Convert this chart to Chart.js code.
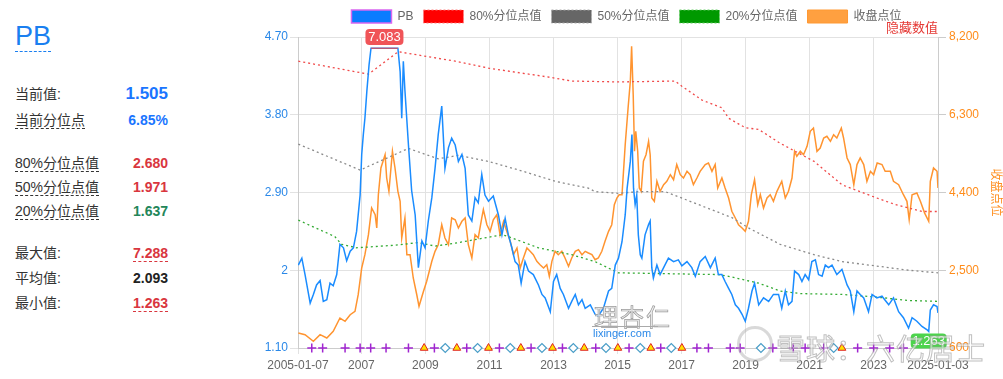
<!DOCTYPE html>
<html>
<head>
<meta charset="utf-8">
<script src="https://cdn.jsdelivr.net/npm/chart.js@4.4.1/dist/chart.umd.min.js"></script>
<style>
  html, body { margin: 0; padding: 0; background: #fff; }
  body { width: 1003px; height: 379px; position: relative; overflow: hidden;
         font-family: "Liberation Sans", "Noto Sans CJK SC", sans-serif; }
  #side { position: absolute; left: 0; top: 0; width: 250px; height: 379px; }
  .title { position: absolute; left: 15px; top: 21px; font-size: 27px; line-height: 30px;
           color: #1a7ff0; border-bottom: 1px dashed #1a7ff0; }
  .row { position: absolute; left: 15px; width: 153px; height: 16px; line-height: 16px; font-size: 14px; color: #333; }
  .row .lab { position: absolute; left: 0; top: 0; }
  .row .dash { border-bottom: 1px dashed #333; }
  .row .val { position: absolute; right: 0; top: 0; font-weight: bold; }
  .blue { color: #1a75ff; }
  .red { color: #d9363e; }
  .green { color: #23865a; }
  .black { color: #222; }
  .uline { border-bottom: 1px dashed #d9363e; }
  #wrap { position: absolute; left: 250px; top: 0; width: 753px; height: 379px; }
  .wm { position: absolute; pointer-events: none; white-space: nowrap; }
</style>
</head>
<body>
<div id="side">
  <div class="title">PB</div>
  <div class="row" style="top:86px"><span class="lab">当前值:</span><span class="val blue" style="font-size:17px">1.505</span></div>
  <div class="row" style="top:112px"><span class="lab dash">当前分位点</span><span class="val blue">6.85%</span></div>
  <div class="row" style="top:155px"><span class="lab dash">80%分位点值</span><span class="val red">2.680</span></div>
  <div class="row" style="top:179px"><span class="lab dash">50%分位点值</span><span class="val red">1.971</span></div>
  <div class="row" style="top:203px"><span class="lab dash">20%分位点值</span><span class="val green">1.637</span></div>
  <div class="row" style="top:245px"><span class="lab">最大值:</span><span class="val red uline">7.288</span></div>
  <div class="row" style="top:270px"><span class="lab">平均值:</span><span class="val black">2.093</span></div>
  <div class="row" style="top:295px"><span class="lab">最小值:</span><span class="val red uline">1.263</span></div>
</div>
<div id="wrap"><canvas id="pbChart"></canvas></div>
<div class="wm" style="left:594px;top:298px;font-size:24px;color:rgba(235,235,235,0.8);-webkit-text-stroke:0.7px #9a9a9a;letter-spacing:2px">理杏仁</div>
<div class="wm" style="left:592px;top:326px;width:66px;border-top:1px solid #aaa"></div>
<div class="wm" style="left:593px;top:327px;font-size:11px;color:#2a88e8">lixinger.com</div>
<div class="wm" style="left:737px;top:326px;width:30px;height:30px;border-radius:50%;border:3px solid rgba(170,170,170,0.45)"></div>
<div class="wm" style="left:776px;top:326px;font-size:29px;color:rgba(255,255,255,0.55);-webkit-text-stroke:1px rgba(150,150,150,0.6);letter-spacing:1px">雪球：六亿居士</div>
<script>
// PB series (decimal year / value)
const pbDates = [
  2005.03,2005.14,2005.24,2005.40,2005.50,2005.60,2005.71,2005.81,2005.92,2006.02,
  2006.12,2006.23,2006.33,2006.44,2006.54,2006.65,2006.75,2006.85,2006.96,2007.01,
  2007.06,2007.11,2007.17,2007.24,2007.30,2008.14,2008.21,2008.26,2008.31,2008.36,
  2008.47,2008.57,2008.68,2008.78,2008.89,2008.99,2009.09,2009.20,2009.30,2009.40,
  2009.51,2009.61,2009.72,2009.82,2009.93,2010.03,2010.14,2010.24,2010.34,2010.45,
  2010.55,2010.65,2010.76,2010.86,2010.97,2011.12,2011.28,2011.39,2011.49,2011.59,
  2011.70,2011.80,2011.90,2011.99,2012.11,2012.22,2012.37,2012.53,2012.64,2012.74,
  2012.90,2013.00,2013.10,2013.21,2013.31,2013.47,2013.57,2013.68,2013.78,2013.89,
  2013.99,2014.15,2014.30,2014.40,2014.56,2014.72,2014.82,2014.93,2015.03,2015.14,
  2015.24,2015.30,2015.40,2015.45,2015.50,2015.55,2015.60,2015.65,2015.71,2015.76,
  2015.86,2015.97,2016.02,2016.07,2016.12,2016.23,2016.33,2016.44,2016.59,2016.75,
  2016.90,2017.01,2017.17,2017.32,2017.43,2017.58,2017.74,2017.90,2018.05,2018.15,
  2018.26,2018.36,2018.47,2018.57,2018.68,2018.78,2018.89,2018.99,2019.09,2019.20,
  2019.28,2019.41,2019.56,2019.72,2019.87,2020.03,2020.13,2020.24,2020.34,2020.45,
  2020.53,2020.66,2020.76,2020.86,2020.97,2021.07,2021.18,2021.28,2021.39,2021.49,
  2021.59,2021.70,2021.85,2022.01,2022.17,2022.27,2022.38,2022.48,2022.58,2022.69,
  2022.84,2022.95,2023.10,2023.26,2023.47,2023.62,2023.78,2023.93,2024.09,2024.20,
  2024.35,2024.51,2024.67,2024.72,2024.77,2024.87,2024.98,2025.01
];
const pbValues = [
  2.06,2.14,1.95,1.62,1.72,1.83,1.88,1.64,1.66,1.85,
  1.82,1.95,2.30,2.26,2.11,2.22,2.26,2.45,2.87,3.34,
  3.57,3.76,4.07,4.38,4.57,4.57,4.30,3.76,4.42,4.08,
  3.45,2.92,2.64,2.03,2.34,2.26,2.57,2.84,3.18,3.57,
  3.90,3.18,3.42,3.53,3.45,3.26,3.34,3.18,2.64,2.57,
  2.84,2.78,3.11,2.87,2.80,2.86,2.64,2.41,2.60,2.41,
  2.26,2.10,2.06,1.85,2.10,1.99,1.95,1.83,1.72,1.68,
  1.52,1.87,1.95,1.79,1.72,1.56,1.64,1.72,1.60,1.66,
  1.56,1.60,1.49,1.47,1.56,1.76,1.79,2.06,2.14,2.33,
  2.64,2.95,3.26,3.57,2.95,2.76,2.87,2.41,2.18,2.14,
  2.41,2.53,2.57,2.03,1.91,2.06,1.95,2.03,2.14,2.10,
  2.12,2.05,2.10,2.03,1.93,2.10,2.16,2.03,2.14,1.95,
  1.95,1.87,1.79,1.72,1.60,1.56,1.49,1.41,1.56,1.76,
  1.85,1.60,1.68,1.64,1.72,1.72,1.56,1.76,1.60,1.64,
  1.99,1.95,1.87,1.95,1.89,2.10,2.12,1.95,1.93,2.06,
  2.03,2.06,1.95,2.01,1.83,1.76,1.52,1.76,1.72,1.68,
  1.52,1.72,1.68,1.70,1.60,1.68,1.52,1.45,1.33,1.45,
  1.41,1.35,1.31,1.29,1.54,1.60,1.58,1.505
];

// index close (right axis)
const idxDates = [
  2005.03,2005.24,2005.50,2005.71,2005.92,2006.12,2006.33,2006.49,2006.65,2006.80,
  2006.90,2007.01,2007.11,2007.22,2007.32,2007.43,2007.48,2007.53,2007.61,2007.74,
  2007.79,2007.86,2007.97,2008.05,2008.14,2008.21,2008.26,2008.36,2008.42,2008.52,
  2008.62,2008.73,2008.80,2008.94,2009.04,2009.20,2009.30,2009.40,2009.51,2009.61,
  2009.72,2009.82,2009.93,2010.03,2010.14,2010.24,2010.34,2010.45,2010.55,2010.65,
  2010.76,2010.81,2010.92,2011.02,2011.12,2011.23,2011.33,2011.44,2011.54,2011.65,
  2011.75,2011.86,2011.96,2012.06,2012.17,2012.27,2012.37,2012.48,2012.58,2012.69,
  2012.79,2012.87,2012.95,2013.05,2013.15,2013.26,2013.36,2013.47,2013.57,2013.68,
  2013.78,2013.89,2013.99,2014.09,2014.20,2014.30,2014.40,2014.51,2014.61,2014.72,
  2014.82,2014.90,2014.98,2015.05,2015.14,2015.24,2015.33,2015.40,2015.44,2015.49,
  2015.53,2015.57,2015.63,2015.68,2015.74,2015.81,2015.89,2015.97,2016.02,2016.07,
  2016.15,2016.23,2016.33,2016.44,2016.54,2016.65,2016.75,2016.85,2016.96,2017.06,
  2017.17,2017.27,2017.37,2017.48,2017.58,2017.74,2017.84,2017.95,2018.05,2018.13,
  2018.26,2018.36,2018.47,2018.57,2018.68,2018.78,2018.89,2018.99,2019.09,2019.18,
  2019.28,2019.38,2019.46,2019.56,2019.67,2019.77,2019.87,2019.98,2020.13,2020.24,
  2020.34,2020.45,2020.53,2020.60,2020.71,2020.81,2020.92,2021.02,2021.12,2021.23,
  2021.33,2021.44,2021.54,2021.65,2021.75,2021.85,2021.99,2022.06,2022.17,2022.27,
  2022.38,2022.48,2022.58,2022.69,2022.79,2022.90,2023.00,2023.11,2023.26,2023.36,
  2023.52,2023.62,2023.78,2023.93,2024.04,2024.11,2024.20,2024.35,2024.46,2024.59,
  2024.72,2024.77,2024.87,2024.98,2025.01
];
const idxValues = [
  967,925,764,925,844,1008,1333,1252,1414,1497,
  1902,2555,2880,3369,4021,3857,3532,4346,4999,5324,
  4754,4429,5407,4999,4429,4185,3288,3777,2880,2880,
  2311,1902,1619,1985,2230,2718,2963,3124,3613,3288,
  3124,3777,3735,3532,3696,3777,3124,2799,3369,3288,
  3777,3980,3613,3451,3735,3857,3369,3696,3451,3207,
  2880,3044,2555,2799,3044,2963,2880,2718,2636,2555,
  2636,2352,2718,2963,2880,2963,2799,2596,2799,2963,
  3003,2880,2963,2922,2880,2759,2799,2963,3207,3451,
  3613,4102,4265,4346,4346,5568,6465,7117,7973,6790,
  5407,5895,5407,4510,4429,5163,5324,5651,5324,4265,
  4185,4674,4429,4591,4674,4835,4713,5083,4835,4754,
  4918,4835,4591,4754,4918,5083,5121,4918,5083,4510,
  4754,4510,4265,3942,3777,3613,3532,3451,3696,4346,
  4713,4102,4346,4021,4265,4346,4185,4429,4674,4265,
  4429,4754,5407,5285,5407,5324,5529,5895,5976,5407,
  5487,5732,5773,5651,5813,5732,5976,5732,5243,5083,
  4591,5083,5243,5083,4674,4918,4835,5121,5083,4918,
  4918,4674,4591,4346,4185,3735,4346,4388,4185,3903,
  3696,4674,4999,4918,4510
];

// quantile lines
const q80Dates = [2005.03,2007.22,2008.15,2009.93,2010.97,2012.95,2013.57,2015.03,2016.80,2017.01,2017.64,2018.26,2018.47,2018.99,2019.41,2020.08,2021.14,2022.01,2023.07,2023.68,2024.51,2025.01];
const q80Values = [4.42,4.27,4.53,4.42,4.34,4.23,4.19,4.18,4.19,4.13,3.97,3.88,3.76,3.65,3.63,3.47,3.26,2.99,2.84,2.76,2.68,2.68];
const q50Dates = [2005.03,2006.96,2008.47,2009.40,2010.03,2010.97,2012.01,2013.05,2014.09,2014.30,2015.03,2015.65,2016.49,2017.53,2018.57,2019.09,2020.08,2021.14,2022.01,2023.07,2024.09,2025.01];
const q50Values = [3.46,3.16,3.41,3.29,3.33,3.26,3.15,3.03,2.95,2.91,2.89,2.91,2.91,2.76,2.61,2.49,2.30,2.18,2.10,2.05,2.00,1.97];
const q20Dates = [2005.03,2006.17,2006.38,2006.85,2008.05,2008.78,2009.30,2010.03,2011.39,2011.59,2012.53,2013.57,2014.30,2015.03,2016.59,2018.15,2018.47,2019.41,2020.08,2020.70,2022.01,2023.07,2024.09,2025.01];
const q20Values = [2.58,2.39,2.30,2.26,2.29,2.32,2.28,2.32,2.41,2.39,2.26,2.18,2.10,1.97,1.96,1.95,1.93,1.85,1.76,1.73,1.72,1.69,1.65,1.64];

// event markers on the bottom line
const crossDates = [2005.45,2005.79,2006.49,2006.96,2007.29,2007.77,2008.47,2009.28,2010.29,2011.31,2012.30,2013.28,2014.32,2015.36,2016.35,2017.48,2017.84,2018.52,2018.83,2019.85,2020.49,2020.86,2021.44,2022.50,2023.00,2023.50,2023.93];
const triangleDates = [2008.96,2009.98,2010.97,2011.98,2012.97,2013.96,2015.01,2016.04,2017.01,2022.01];
const diamondDates = [2009.62,2010.63,2011.65,2012.64,2013.62,2014.64,2015.71,2016.68,2019.48,2021.75];
const markerLevel = 1.10;

// axes
const xTickValues = [2005.02,2007,2009,2011,2013,2015,2017,2019,2021,2023,2025.01];
const xTickLabels = ['2005-01-07','2007','2009','2011','2013','2015','2017','2019','2021','2023','2025-01-03'];
const pbTicks = [1.1, 2, 2.9, 3.8, 4.7];
const pbTickLabels = ['1.10','2','2.90','3.80','4.70'];
const idxTicks = [600, 2500, 4400, 6300, 8200];
const idxTickLabels = ['600','2,500','4,400','6,300','8,200'];

// capped peak and min labels
const capStart = 2007.30, capEnd = 2008.14, capLevel = 4.57, maxLabel = '7.083';
const minDate = 2024.72, minLabel = '1.263';

const toPoints = (xs, ys) => xs.map((d, i) => ({ x: d, y: ys[i] }));
const atLevel = xs => xs.map(d => ({ x: d, y: markerLevel }));

Chart.defaults.font.family = '"Liberation Sans", "Noto Sans CJK SC", sans-serif';
Chart.defaults.font.size = 12;

const legendItems = [
    { text: 'PB', fill: '#0a7cff', stroke: '#d966f0', dash: [], width: 1.5 },
    { text: '80%分位点值', fill: '#ff0000', stroke: '#ff7a7a', dash: [2, 2], width: 1 },
    { text: '50%分位点值', fill: '#666666', stroke: '#aaaaaa', dash: [2, 2], width: 1 },
    { text: '20%分位点值', fill: '#009900', stroke: '#66cc66', dash: [2, 2], width: 1 },
    { text: '收盘点位', fill: '#ffa040', stroke: '#ff9933', dash: [], width: 1 }
];

function drawBadge(ctx, cx, cy, w, h, text, color) {
    ctx.fillStyle = color;
    ctx.beginPath();
    ctx.roundRect(cx - w / 2, cy - h / 2, w, h, 4);
    ctx.fill();
    ctx.fillStyle = '#fff';
    ctx.font = '13px "Liberation Sans", sans-serif';
    ctx.textAlign = 'center';
    ctx.textBaseline = 'middle';
    ctx.fillText(text, cx, cy + 0.5);
}

const extrasPlugin = {
    id: 'extras',
    beforeInit(chart) {
        // fixed legend height so the plot area starts where the reference does
        const fit = chart.legend.fit;
        chart.legend.fit = function () {
            fit.call(this);
            this.height = 37;
        };
    },
    afterDatasetsDraw(chart) {
        const { ctx, chartArea, scales } = chart;
        const x0 = scales.x.getPixelForValue(capStart);
        const x1 = scales.x.getPixelForValue(capEnd);
        const yc = scales.y.getPixelForValue(capLevel);
        ctx.save();
        ctx.strokeStyle = '#f04848';
        ctx.lineWidth = 1;
        ctx.beginPath();
        ctx.moveTo(x0, yc);
        ctx.lineTo(x1, yc);
        ctx.stroke();
        drawBadge(ctx, (x0 + x1) / 2, chartArea.top, 38, 16, maxLabel, '#f05458');
        drawBadge(ctx, scales.x.getPixelForValue(minDate), chartArea.bottom - 7, 36, 15, minLabel, '#4cd44c');

        ctx.fillStyle = '#e53935';
        ctx.font = '13px "Liberation Sans", "Noto Sans CJK SC", sans-serif';
        ctx.textAlign = 'right';
        ctx.textBaseline = 'middle';
        ctx.fillText('隐藏数值', chartArea.right, chartArea.top - 9);
        ctx.restore();
    }
};

const ctx = document.getElementById('pbChart').getContext('2d');
new Chart(ctx, {
    type: 'line',
    data: {
        datasets: [
            {
                label: 'PB', data: toPoints(pbDates, pbValues), yAxisID: 'y',
                borderColor: '#1a8cff', borderWidth: 1.5, pointRadius: 0
            },
            {
                label: '80%分位点值', data: toPoints(q80Dates, q80Values), yAxisID: 'y',
                borderColor: '#f04a4a', borderWidth: 1.3, borderDash: [2, 3], pointRadius: 0
            },
            {
                label: '50%分位点值', data: toPoints(q50Dates, q50Values), yAxisID: 'y',
                borderColor: '#8a8a8a', borderWidth: 1.3, borderDash: [2, 3], pointRadius: 0
            },
            {
                label: '20%分位点值', data: toPoints(q20Dates, q20Values), yAxisID: 'y',
                borderColor: '#33aa33', borderWidth: 1.3, borderDash: [2, 3], pointRadius: 0
            },
            {
                label: '收盘点位', data: toPoints(idxDates, idxValues), yAxisID: 'y1',
                borderColor: '#ff9430', borderWidth: 1.5, pointRadius: 0
            },
            {
                label: 'cross', data: atLevel(crossDates), yAxisID: 'y', showLine: false, clip: false,
                pointStyle: 'cross', pointRadius: 4.5, pointBorderColor: '#a025d0', pointBorderWidth: 1.5
            },
            {
                label: 'triangle', data: atLevel(triangleDates), yAxisID: 'y', showLine: false, clip: false,
                pointStyle: 'triangle', pointRadius: 4.5, pointBackgroundColor: '#ffe000',
                pointBorderColor: '#e02020', pointBorderWidth: 1
            },
            {
                label: 'diamond', data: atLevel(diamondDates), yAxisID: 'y', showLine: false, clip: false,
                pointStyle: 'rectRot', pointRadius: 4.5, pointBackgroundColor: '#ffffff',
                pointBorderColor: '#4a9ec8', pointBorderWidth: 1.2
            }
        ]
    },
    options: {
        responsive: true,
        maintainAspectRatio: false,
        animation: false,
        layout: { padding: 0 },
        plugins: {
            legend: {
                position: 'top',
                labels: {
                    boxWidth: 40,
                    boxHeight: 13,
                    padding: 10,
                    color: '#666',
                    font: { size: 12 },
                    generateLabels: () => legendItems.map((it, i) => ({
                        text: it.text,
                        fillStyle: it.fill,
                        strokeStyle: it.stroke,
                        lineWidth: it.width,
                        lineDash: it.dash,
                        fontColor: '#666',
                        hidden: false,
                        datasetIndex: i
                    }))
                }
            },
            tooltip: { enabled: false }
        },
        scales: {
            x: {
                type: 'linear',
                min: 2005.02,
                max: 2025.01,
                afterBuildTicks: scale => { scale.ticks = xTickValues.map(v => ({ value: v })); },
                afterFit: scale => { scale.height = 31; },
                ticks: {
                    autoSkip: false,
                    maxRotation: 0,
                    padding: 4,
                    color: '#666',
                    font: { size: 12 },
                    callback: (v, i) => xTickLabels[i]
                },
                grid: { color: '#e2e2e2', tickLength: 6 },
                border: { color: '#cccccc' }
            },
            y: {
                position: 'left',
                min: 1.1,
                max: 4.7,
                afterBuildTicks: scale => { scale.ticks = pbTicks.map(v => ({ value: v })); },
                afterFit: scale => { scale.width = 48; },
                ticks: {
                    padding: 2,
                    color: '#2a88e8',
                    font: { size: 12 },
                    callback: (v, i) => pbTickLabels[i]
                },
                grid: { color: '#e2e2e2', tickLength: 8 },
                border: { color: '#cccccc' }
            },
            y1: {
                position: 'right',
                min: 600,
                max: 8200,
                afterBuildTicks: scale => { scale.ticks = idxTicks.map(v => ({ value: v })); },
                afterFit: scale => { scale.width = 65; },
                ticks: {
                    padding: 3,
                    color: '#ff8c1a',
                    font: { size: 12 },
                    callback: (v, i) => idxTickLabels[i]
                },
                grid: { drawOnChartArea: false, color: '#cccccc', tickLength: 8 },
                border: { color: '#cccccc' },
                title: {
                    display: true,
                    text: '收盘点位',
                    color: '#ff8c1a',
                    font: { size: 12 },
                    padding: { top: 0, bottom: 3 }
                }
            }
        }
    },
    plugins: [extrasPlugin]
});
</script>
</body>
</html>
